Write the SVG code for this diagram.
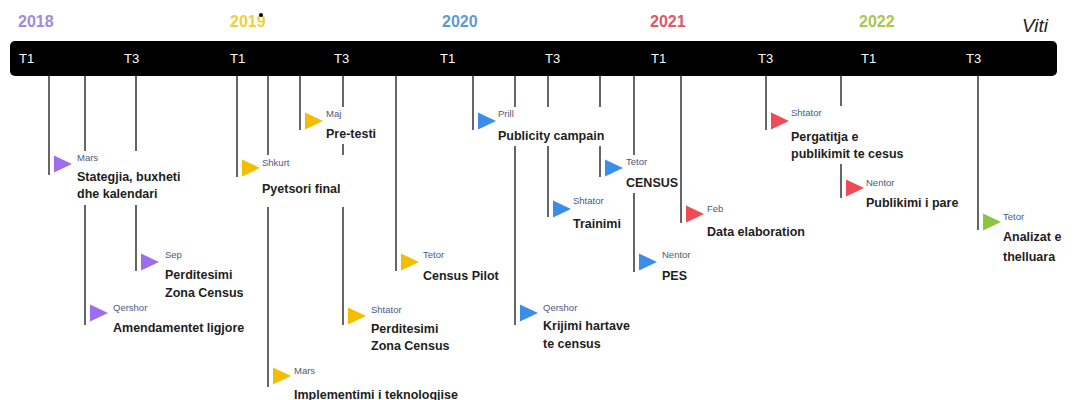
<svg xmlns="http://www.w3.org/2000/svg" width="1077" height="400" viewBox="0 0 1077 400">
<style>
.yr{font-family:"Liberation Sans",Arial,sans-serif;font-size:16px;font-weight:bold}
.q{font-family:"Liberation Sans",Arial,sans-serif;font-size:13px;fill:#fff}
.mo{font-family:"Liberation Sans",Arial,sans-serif;font-size:9.5px;fill:#4a5a7c}
.tx{font-family:"Liberation Sans",Arial,sans-serif;font-size:12.5px;font-weight:bold;fill:#1e1e1e}
.bg{fill:#fff}
.ln{stroke:#333;stroke-width:1.5;fill:none}
.pu{fill:#9f6cf0}.ye{fill:#f5bd00}.bl{fill:#3a8ee8}.re{fill:#f04a55}.gr{fill:#8cc63e}
</style>
<rect width="1077" height="400" fill="#fff"/>
<g id="years">
<text class="yr" x="18" y="27" fill="#a08ae0">2018</text>
<text class="yr" x="230" y="27" fill="#f2cf3a">2019</text>
<circle cx="261" cy="15" r="2" fill="#000"/>
<text class="yr" x="442" y="27" fill="#5b9bd5">2020</text>
<text class="yr" x="650" y="27" fill="#e2566a">2021</text>
<text class="yr" x="859" y="27" fill="#a8c84a">2022</text>
<text x="1022" y="32" font-family="Liberation Sans,Arial,sans-serif" font-size="19" font-style="italic" fill="#222">Viti</text>
</g>
<g id="timeline-bar">
<rect x="10" y="41" width="1047" height="35" rx="5" fill="#000"/>
<text class="q" x="19" y="63">T1</text>
<text class="q" x="124" y="63">T3</text>
<text class="q" x="230" y="63">T1</text>
<text class="q" x="334" y="63">T3</text>
<text class="q" x="440" y="63">T1</text>
<text class="q" x="545" y="63">T3</text>
<text class="q" x="651" y="63">T1</text>
<text class="q" x="758" y="63">T3</text>
<text class="q" x="861" y="63">T1</text>
<text class="q" x="966" y="63">T3</text>
</g>
<g id="connectors" class="ln">
<line x1="49" y1="76" x2="49" y2="175"/>
<line x1="85" y1="76" x2="85" y2="325"/>
<line x1="136" y1="76" x2="136" y2="271"/>
<line x1="237" y1="76" x2="237" y2="177"/>
<line x1="268" y1="76" x2="268" y2="387"/>
<line x1="300" y1="76" x2="300" y2="130"/>
<line x1="343" y1="76" x2="343" y2="325"/>
<line x1="396" y1="76" x2="396" y2="271"/>
<line x1="473" y1="76" x2="473" y2="130"/>
<line x1="515" y1="76" x2="515" y2="325"/>
<line x1="548" y1="76" x2="548" y2="217"/>
<line x1="600" y1="76" x2="600" y2="177"/>
<line x1="634" y1="76" x2="634" y2="272"/>
<line x1="681" y1="76" x2="681" y2="223"/>
<line x1="766" y1="76" x2="766" y2="130"/>
<line x1="841" y1="76" x2="841" y2="198"/>
<line x1="978" y1="76" x2="978" y2="230"/>
</g>
<g id="n-2018-mars">
<rect class="bg" x="74" y="151" width="116" height="54"/>
<polygon class="pu" points="54,155.5 72,164 54,172.5"/>
<text class="mo" x="77" y="161">Mars</text>
<text class="tx" x="77" y="181">Stategjia, buxheti</text>
<text class="tx" x="77" y="198">dhe kalendari</text>
</g>
<g id="n-2018-qershor">
<rect class="bg" x="110" y="301" width="142" height="36"/>
<polygon class="pu" points="90,304.5 108,313 90,321.5"/>
<text class="mo" x="113" y="311">Qershor</text>
<text class="tx" x="113" y="332">Amendamentet ligjore</text>
</g>
<g id="n-2018-sep">
<rect class="bg" x="162" y="248" width="82" height="54"/>
<polygon class="pu" points="141,253.5 159,262 141,270.5"/>
<text class="mo" x="165" y="258">Sep</text>
<text class="tx" x="165" y="279">Perditesimi</text>
<text class="tx" x="165" y="297">Zona Census</text>
</g>
<g id="n-2019-shkurt">
<rect class="bg" x="259" y="155" width="88" height="52"/>
<polygon class="ye" points="242,159.5 260,168 242,176.5"/>
<text class="mo" x="262" y="166">Shkurt</text>
<text class="tx" x="262" y="193">Pyetsori final</text>
</g>
<g id="n-2019-mars">
<rect class="bg" x="291" y="364" width="176" height="36"/>
<polygon class="ye" points="273,367.5 291,376 273,384.5"/>
<text class="mo" x="294" y="374">Mars</text>
<text class="tx" x="294" y="399">Implementimi i teknologjise</text>
</g>
<g id="n-2019-maj">
<rect class="bg" x="323" y="107" width="58" height="37"/>
<polygon class="ye" points="305,112.5 323,121 305,129.5"/>
<text class="mo" x="326" y="117">Maj</text>
<text class="tx" x="326" y="138">Pre-testi</text>
</g>
<g id="n-2019-shtator">
<rect class="bg" x="368" y="303" width="80" height="53"/>
<polygon class="ye" points="348,307.5 366,316 348,324.5"/>
<text class="mo" x="371" y="313">Shtator</text>
<text class="tx" x="371" y="333">Perditesimi</text>
<text class="tx" x="371" y="350">Zona Census</text>
</g>
<g id="n-2019-tetor">
<rect class="bg" x="420" y="248" width="82" height="37"/>
<polygon class="ye" points="401,253.5 419,262 401,270.5"/>
<text class="mo" x="423" y="258">Tetor</text>
<text class="tx" x="423" y="280">Census Pilot</text>
</g>
<g id="n-2020-prill">
<rect class="bg" x="495" y="107" width="114" height="39"/>
<polygon class="bl" points="478,112.5 496,121 478,129.5"/>
<text class="mo" x="498" y="117">Prill</text>
<text class="tx" x="498" y="140">Publicity campain</text>
</g>
<g id="n-2020-qershor">
<rect class="bg" x="540" y="301" width="90" height="52"/>
<polygon class="bl" points="520,304.5 538,313 520,321.5"/>
<text class="mo" x="543" y="311">Qershor</text>
<text class="tx" x="543" y="330">Krijimi hartave</text>
<text class="tx" x="543" y="348">te census</text>
</g>
<g id="n-2020-shtator">
<rect class="bg" x="570" y="194" width="58" height="40"/>
<polygon class="bl" points="553,200.5 571,209 553,217.5"/>
<text class="mo" x="573" y="204">Shtator</text>
<text class="tx" x="573" y="228">Trainimi</text>
</g>
<g id="n-2020-tetor">
<rect class="bg" x="623" y="155" width="54" height="38"/>
<polygon class="bl" points="605,159.5 623,168 605,176.5"/>
<text class="mo" x="626" y="165">Tetor</text>
<text class="tx" x="626" y="187">CENSUS</text>
</g>
<g id="n-2020-nentor">
<rect class="bg" x="659" y="248" width="40" height="37"/>
<polygon class="bl" points="639,253.5 657,262 639,270.5"/>
<text class="mo" x="662" y="258">Nentor</text>
<text class="tx" x="662" y="280">PES</text>
</g>
<g id="n-2021-feb">
<rect class="bg" x="704" y="202" width="110" height="40"/>
<polygon class="re" points="686,205.5 704,214 686,222.5"/>
<text class="mo" x="707" y="212">Feb</text>
<text class="tx" x="707" y="236">Data elaboration</text>
</g>
<g id="n-2021-shtator">
<rect class="bg" x="788" y="106" width="122" height="58"/>
<polygon class="re" points="771,112.5 789,121 771,129.5"/>
<text class="mo" x="791" y="116">Shtator</text>
<text class="tx" x="791" y="141">Pergatitja e</text>
<text class="tx" x="791" y="158">publikimit te cesus</text>
</g>
<g id="n-2021-nentor">
<rect class="bg" x="863" y="176" width="102" height="37"/>
<polygon class="re" points="846,179.5 864,188 846,196.5"/>
<text class="mo" x="866" y="186">Nentor</text>
<text class="tx" x="866" y="207">Publikimi i pare</text>
</g>
<g id="n-2022-tetor">
<rect class="bg" x="1000" y="210" width="66" height="56"/>
<polygon class="gr" points="983,213.5 1001,222 983,230.5"/>
<text class="mo" x="1003" y="220">Tetor</text>
<text class="tx" x="1003" y="241">Analizat e</text>
<text class="tx" x="1003" y="261">thelluara</text>
</g>
</svg>
